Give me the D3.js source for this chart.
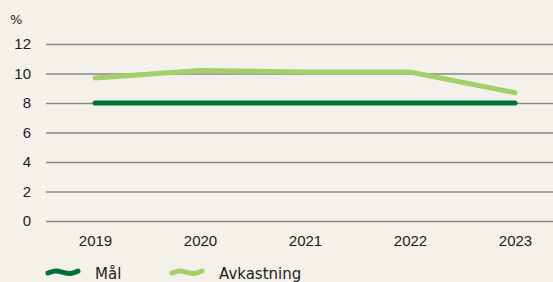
<!DOCTYPE html>
<html>
<head>
<meta charset="utf-8">
<script src="https://cdn.jsdelivr.net/npm/d3@7"></script>
<style>
  body { margin: 0; background: #f4f1ea; }
  svg { display: block; font-family: "DejaVu Sans", sans-serif; }
</style>
</head>
<body>
<div id="chart-area"></div>
<script>
const years = ['2019', '2020', '2021', '2022', '2023']
const malValues = [8, 8, 8, 8, 8]
const avkastningValues = [9.7, 10.2, 10.1, 10.1, 8.7]
const yTicks = [0, 2, 4, 6, 8, 10, 12]
const seriesNames = ['Mål', 'Avkastning']
const seriesColors = ['#007034', '#a3cf68']

const width = 553
const height = 282

const svg = d3.select('#chart-area').append('svg')
    .attr('width', width)
    .attr('height', height)

svg.append('rect')
    .attr('width', width)
    .attr('height', height)
    .attr('fill', '#f4f1ea')

const scaleX = d3.scalePoint()
    .domain(years)
    .range([95, 515])

const scaleY = d3.scaleLinear()
    .domain([0, 12])
    .range([221, 44])

// gridlines + y labels
const yAxisCall = d3.axisLeft(scaleY)
    .tickValues(yTicks)
    .tickSize(-(width - 46))
    .tickPadding(15)
const yAxis = svg.append('g')
    .attr('class', 'y axis')
    .attr('transform', 'translate(46, 0)')
    .call(yAxisCall)
yAxis.select('.domain').remove()
yAxis.selectAll('line')
    .attr('stroke', '#8a8784')
    .attr('stroke-width', 1.5)
yAxis.selectAll('text')
    .attr('fill', '#1c1c1c')
    .attr('font-size', '15px')

svg.append('text')
    .attr('x', 10)
    .attr('y', 24)
    .attr('font-size', '13px')
    .attr('fill', '#1c1c1c')
    .text('%')

// x labels
const xAxisCall = d3.axisBottom(scaleX).tickSize(0).tickPadding(14)
const xAxis = svg.append('g')
    .attr('class', 'x axis')
    .attr('transform', 'translate(0, 221)')
    .call(xAxisCall)
xAxis.select('.domain').remove()
xAxis.selectAll('text')
    .attr('fill', '#1c1c1c')
    .attr('font-size', '15px')

const line = d3.line()
    .x((d, i) => scaleX(years[i]))
    .y(d => scaleY(d))

svg.selectAll('path.series')
    .data([avkastningValues, malValues])
    .enter()
    .append('path')
    .attr('class', 'series')
    .attr('d', line)
    .attr('fill', 'none')
    .attr('stroke', (d, i) => i === 0 ? seriesColors[1] : seriesColors[0])
    .attr('stroke-width', 5)
    .attr('stroke-linecap', 'round')
    .attr('stroke-linejoin', 'round')

// legend
const legend = svg.append('g').attr('transform', 'translate(0, 272)')
const legendX = [48, 172]
const wave = d3.line().curve(d3.curveBasis)

seriesNames.forEach((name, i) => {
    const g = legend.append('g').attr('transform', `translate(${legendX[i]}, 0)`)
    g.append('path')
        .attr('d', wave([[0, 1], [8, -2], [16, 1], [24, 2], [30, -1]]))
        .attr('fill', 'none')
        .attr('stroke', seriesColors[i])
        .attr('stroke-width', 5)
        .attr('stroke-linecap', 'round')
    g.append('text')
        .attr('x', 47)
        .attr('y', 7)
        .attr('font-size', '15px')
        .attr('fill', '#1c1c1c')
        .text(name)
})
</script>
</body>
</html>
